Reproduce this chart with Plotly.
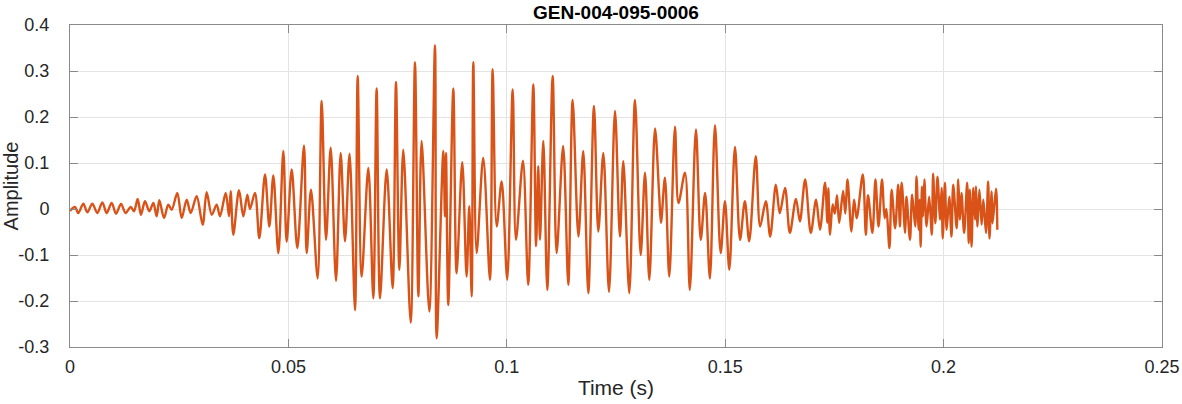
import plotly.graph_objects as go

# waveform extrema (time in ms, amplitude)
time_ms = [
    0.0, 1.14, 1.9, 3.05, 3.97, 5.11, 6.26, 7.41, 8.39, 9.54, 10.53, 11.68, 12.74, 13.9,
    14.65, 15.49, 16.25, 17.17, 18.16, 19.08, 19.84, 20.45, 21.52, 22.5, 23.28, 24.57,
    25.57, 26.71, 27.63, 29.0, 30.37, 31.29, 32.44, 33.58, 34.34, 35.64, 36.4, 36.78,
    37.39, 38.69, 39.68, 40.6, 41.2, 42.35, 43.34, 44.64, 45.64, 46.55, 47.7, 48.84,
    49.6, 50.75, 52.04, 53.57, 54.18, 55.17, 56.7, 57.62, 58.61, 59.68, 60.9, 61.97,
    62.96, 64.0, 65.25, 65.86, 66.77, 68.3, 69.44, 70.2, 70.97, 72.5, 73.87, 74.63,
    75.4, 76.3, 78.0, 78.98, 79.75, 80.5, 82.26, 83.56, 83.94, 85.47, 85.85, 86.08,
    86.6, 87.75, 88.5, 89.8, 90.8, 91.4, 91.96, 92.33, 93.1, 94.6, 96.15, 96.76,
    97.68, 98.82, 100.1, 101.35, 102.1, 103.7, 104.9, 106.07, 106.7, 107.2, 107.6,
    108.36, 109.27, 110.5, 111.4, 112.9, 114.08, 115.07, 116.4, 117.5, 118.66, 119.96,
    120.95, 122.1, 123.4, 124.77, 125.9, 126.67, 128.05, 129.35, 130.65, 131.64,
    132.63, 133.93, 134.9, 135.3, 136.2, 137.2, 138.5, 139.3, 140.8, 141.9, 143.3,
    144.4, 145.4, 146.5, 147.66, 148.96, 149.95, 150.94, 152.24, 153.4, 154.5, 155.5,
    157.0, 158.0, 159.3, 160.3, 161.6, 162.5, 163.7, 164.8, 166.2, 167.1, 168.3,
    169.6, 170.8, 171.7, 172.85, 173.4, 173.6, 174.0, 174.6, 175.1, 175.6, 176.1,
    177.0, 177.5, 178.0, 178.9, 179.5, 180.1, 181.5, 182.2, 182.7, 183.7, 184.4,
    185.1, 185.9, 186.5, 186.9, 187.6, 188.1, 188.9, 189.6, 190.0, 190.4, 191.2,
    191.5, 192.3, 192.8, 193.5, 193.8, 194.3, 194.5, 194.75, 195.05, 195.3, 195.6,
    196.1, 196.7, 197.3, 197.6, 198.1, 198.6, 199.2, 199.55, 199.8, 200.3, 200.7,
    201.3, 201.8, 202.2, 203.0, 203.35, 203.75, 204.1, 204.7, 205.4, 205.75, 206.0,
    206.4, 206.8, 207.2, 207.4, 207.7, 208.2, 208.7, 209.1, 209.7, 210.2, 210.5,
    211.0, 211.2, 212.0, 212.3,
]
amplitude = [
    -0.004, 0.0044, -0.009, 0.0116, -0.0073, 0.0116, -0.0087, 0.0145, -0.0087, 0.0131,
    -0.0102, 0.0109, -0.0087, 0.0044, -0.005, 0.0218, -0.0124, 0.0167, -0.005, 0.0131,
    -0.016, 0.0189, -0.0196, 0.0095, -0.0015, 0.0349, -0.0196, 0.0204, -0.0087, 0.0276,
    -0.0342, 0.0364, -0.0124, 0.0095, -0.016, 0.0349, -0.016, 0.0385, -0.056, 0.0407,
    -0.016, 0.0313, 0.0, 0.0349, -0.0633, 0.075, -0.038, 0.073, -0.096, 0.126,
    -0.071, 0.086, -0.085, 0.138, -0.096, 0.042, -0.151, 0.235, -0.067, 0.133,
    -0.156, 0.122, -0.07, 0.12, -0.22, 0.289, -0.147, 0.089, -0.194, 0.262,
    -0.194, 0.086, -0.172, 0.276, -0.132, 0.129, -0.247, 0.319, -0.19, 0.148,
    -0.223, 0.356, -0.281, 0.126, -0.016, 0.122, -0.209, 0.262, -0.14, 0.102,
    -0.147, 0.006, -0.19, 0.319, -0.096, 0.111, -0.154, 0.304, -0.038, 0.06,
    -0.154, 0.26, -0.067, 0.105, -0.165, 0.271, -0.081, 0.093, -0.067, 0.148,
    -0.176, 0.289, -0.096, 0.137, -0.165, 0.237, -0.06, 0.126, -0.183, 0.224,
    -0.049, 0.122, -0.18, 0.213, -0.06, 0.104, -0.183, 0.237, -0.1, 0.079,
    -0.154, 0.175, 0.028, -0.03, 0.068, -0.147, 0.179, 0.013, 0.079, -0.176, 0.173,
    -0.067, 0.035, -0.151, 0.182, -0.096, 0.017, -0.132, 0.135, -0.067, 0.017, -0.07,
    0.115, -0.038, 0.017, -0.06, 0.053, -0.009, 0.046, -0.052, 0.022, -0.027, 0.064,
    -0.052, 0.02, -0.045, 0.057, -0.03, 0.045, -0.056, 0.01, -0.01, 0.03, -0.03,
    0.039, -0.01, 0.064, -0.049, 0.02, -0.02, 0.075, -0.056, 0.03, -0.052, 0.064,
    -0.038, 0.064, -0.02, 0.0, -0.085, 0.042, -0.042, 0.053, -0.038, 0.057, -0.052,
    0.027, -0.067, 0.031, -0.038, 0.071, -0.045, 0.02, -0.082, 0.049, -0.016, 0.064,
    -0.038, 0.027, -0.056, 0.077, -0.031, 0.070, -0.023, 0.046, -0.064, 0.057, -0.045,
    0.027, -0.06, 0.053, -0.042, 0.064, -0.023, 0.035, -0.052, 0.057, -0.074, 0.042,
    -0.082, 0.046, -0.023, 0.049, -0.038, 0.042, -0.034, 0.02, -0.052, 0.060, -0.064,
    0.038, -0.031, 0.044, -0.045,
]

x_ticks = [0, 0.05, 0.1, 0.15, 0.2, 0.25]
x_labels = ["0", "0.05", "0.1", "0.15", "0.2", "0.25"]
y_ticks = [-0.3, -0.2, -0.1, 0, 0.1, 0.2, 0.3, 0.4]
y_labels = ["-0.3", "-0.2", "-0.1", "0", "0.1", "0.2", "0.3", "0.4"]

time_s = [t / 1000 for t in time_ms]

FONT = "Arial, 'Liberation Sans', sans-serif"
AXIS_COLOR = "#8a8a8a"
TEXT_COLOR = "#262626"
GRID_COLOR = "#e3e3e3"

fig = go.Figure(
    go.Scatter(
        x=time_s,
        y=amplitude,
        mode="lines",
        line=dict(color="#D95319", width=2.4, shape="spline", smoothing=0.9),
        hoverinfo="skip",
    )
)

axis_common = dict(
    showgrid=True,
    gridcolor=GRID_COLOR,
    gridwidth=1,
    zeroline=False,
    showline=True,
    linecolor=AXIS_COLOR,
    linewidth=1,
    mirror="ticks",
    ticks="inside",
    ticklen=8,
    tickcolor=AXIS_COLOR,
    tickfont=dict(size=18, color=TEXT_COLOR, family=FONT),
    automargin=False,
)

fig.update_layout(
    width=1182,
    height=404,
    plot_bgcolor="white",
    paper_bgcolor="white",
    font=dict(family=FONT, color=TEXT_COLOR),
    showlegend=False,
    margin=dict(l=70, r=20, t=25, b=57),
    title=dict(
        text="<b>GEN-004-095-0006</b>",
        font=dict(size=19, color="#000000", family=FONT),
        x=0.5,
        xref="paper",
        xanchor="center",
        y=1 - 12 / 404,
        yref="container",
        yanchor="middle",
    ),
    xaxis=dict(
        range=[0, 0.25],
        tickvals=x_ticks,
        ticktext=x_labels,
        title=dict(text="Time (s)", font=dict(size=21, color=TEXT_COLOR), standoff=4),
        ticklabelstandoff=3,
        **axis_common,
    ),
    yaxis=dict(
        range=[-0.3, 0.4],
        tickvals=y_ticks,
        ticktext=y_labels,
        title=dict(text="Amplitude", font=dict(size=20, color=TEXT_COLOR), standoff=4),
        ticklabelstandoff=16,
        **axis_common,
    ),
)

# the page is photographed edge to edge, so drop the default body margin
fig.write_html(
    "out.html",
    config={"displayModeBar": False},
    post_script="document.body.style.margin='0';",
)
